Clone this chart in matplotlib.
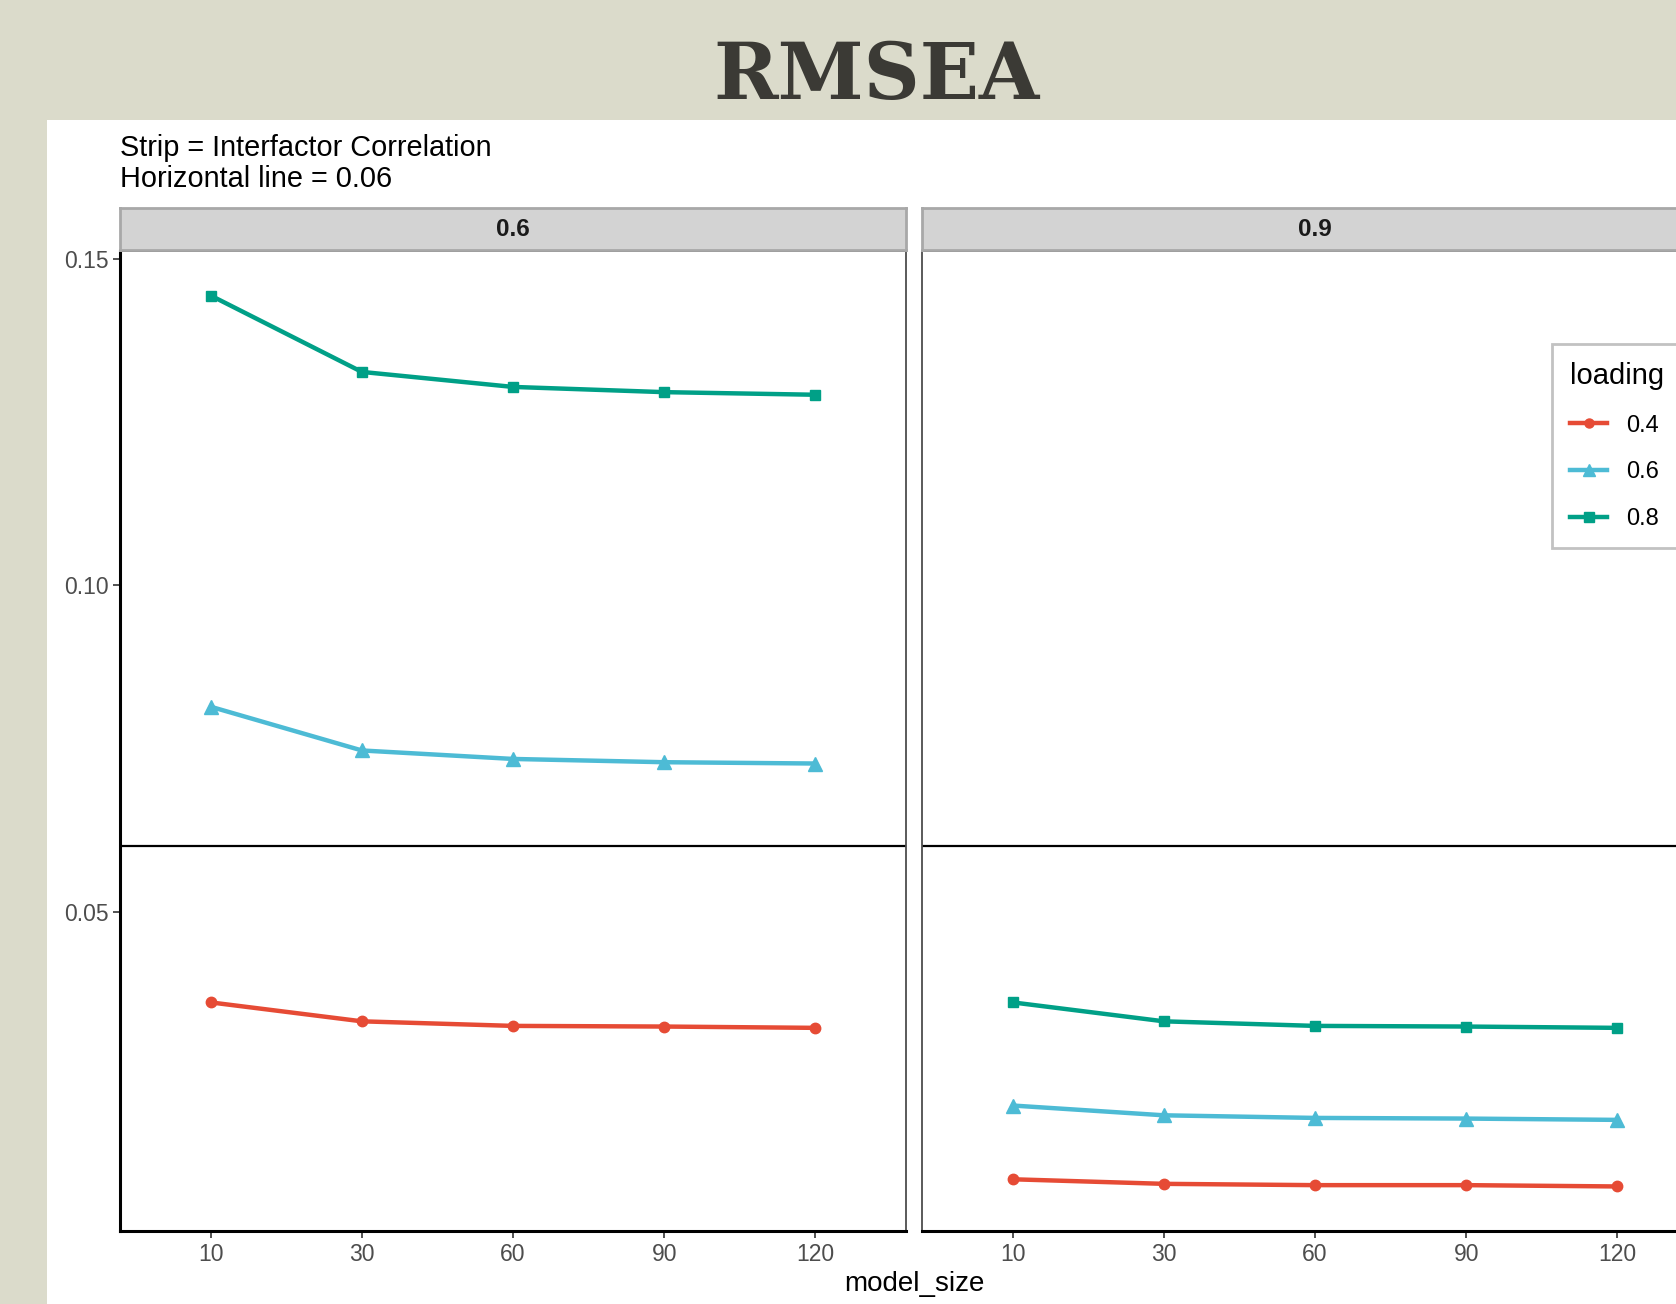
import numpy as np
import matplotlib

matplotlib.use("Agg")
import matplotlib.pyplot as plt
from matplotlib.patches import Rectangle
from matplotlib.lines import Line2D

# x categories and facet / colour levels
model_size = ["10", "30", "60", "90", "120"]
interfactor = ["0.6", "0.9"]
loading = ["0.4", "0.6", "0.8"]

# RMSEA by loading, interfactor correlation = 0.6
r06_l04 = [0.0361, 0.0332, 0.0325, 0.0324, 0.0322]
r06_l06 = [0.0814, 0.0747, 0.0734, 0.0729, 0.0727]
r06_l08 = [0.1444, 0.1327, 0.1304, 0.1296, 0.1292]
# RMSEA by loading, interfactor correlation = 0.9
r09_l04 = [0.0090, 0.0083, 0.0081, 0.0081, 0.0079]
r09_l06 = [0.0203, 0.0188, 0.0184, 0.0183, 0.0181]
r09_l08 = [0.0361, 0.0332, 0.0325, 0.0324, 0.0322]

cutoff = 0.06

COLORS = ["#E64B35", "#4DBBD5", "#00A087"]
MARKERS = ["o", "^", "s"]
MSIZES = [7.5, 9.5, 7.5]
BEIGE = "#DBDBCB"
SANS = "Liberation Sans"

W, H = 1676, 1304


def box(x0, y0, x1, y1):
    """Pixel box (top-left origin) -> figure-fraction rect."""
    return [x0 / W, 1 - y1 / H, (x1 - x0) / W, (y1 - y0) / H]


fig = plt.figure(figsize=(W / 100, H / 100), dpi=100)
fig.patch.set_facecolor(BEIGE)
fig.patches.append(Rectangle((47 / W, 0), 1 - 47 / W, 1 - 120 / H,
                             transform=fig.transFigure, facecolor="white",
                             edgecolor="none", zorder=-10))

fig.text(876 / W, 1 - 99 / H, "RMSEA", ha="center", va="baseline",
         family="DejaVu Serif", weight="bold", fontsize=56, color="#3B3A35")
fig.text(120 / W, 1 - 148 / H, "Strip = Interfactor Correlation",
         ha="left", va="center", family=SANS, fontsize=20.8, color="black")
fig.text(120 / W, 1 - 179 / H, "Horizontal line = 0.06",
         ha="left", va="center", family=SANS, fontsize=20.8, color="black")

panels = [(r06_l04, r06_l06, r06_l08), (r09_l04, r09_l06, r09_l08)]
all_vals = np.concatenate([np.ravel(p) for p in panels])
span = all_vals.max() - all_vals.min()
ylo, yhi = all_vals.min() - 0.05 * span, all_vals.max() + 0.05 * span
xpos = np.arange(1, len(model_size) + 1)

lefts = [(120, 906), (922, 1708)]
for i, (series, label, (x0, x1)) in enumerate(zip(panels, interfactor, lefts)):
    ax = fig.add_axes(box(x0, 251, x1, 1231))
    ax.set_facecolor("white")
    for vals, c, m, ms in zip(series, COLORS, MARKERS, MSIZES):
        ax.plot(xpos, vals, color=c, lw=3.2, marker=m, ms=ms,
                solid_capstyle="butt", zorder=3)
    ax.axhline(cutoff, color="black", lw=1.6, zorder=2)
    ax.set_xlim(0.4, len(model_size) + 0.6)
    ax.set_ylim(ylo, yhi)
    ax.set_xticks(xpos)
    ax.set_xticklabels(model_size)
    ax.set_yticks([0.05, 0.10, 0.15])
    ax.set_yticklabels(["0.05", "0.10", "0.15"])
    ax.tick_params(length=5, width=1.2, color="#333333", labelcolor="#4D4D4D",
                   labelsize=16.5)
    ax.tick_params(axis="x", pad=3.5)
    ax.tick_params(axis="y", pad=3)
    for t in ax.get_xticklabels() + ax.get_yticklabels():
        t.set_family(SANS)
    for s in ["top", "right", "left"]:
        ax.spines[s].set_color("#4D4D4D")
        ax.spines[s].set_linewidth(1.3)
    ax.spines["bottom"].set_color("black")
    ax.spines["bottom"].set_linewidth(2.2)
    if i == 0:
        ax.spines["left"].set_color("black")
        ax.spines["left"].set_linewidth(2.2)
    else:
        ax.tick_params(axis="y", left=False, labelleft=False)

    strip = fig.add_axes(box(x0, 208, x1, 250))
    strip.set_facecolor("#D3D3D3")
    strip.set_xticks([])
    strip.set_yticks([])
    for s in strip.spines.values():
        s.set_color("#A8A8A8")
        s.set_linewidth(2)
    strip.text(0.5, 0.5, label, transform=strip.transAxes, ha="center",
               va="center", family=SANS, weight="bold", fontsize=17.5,
               color="#1A1A1A")

fig.text(914 / W, 1 - 1284 / H, "model_size", ha="center", va="center",
         family=SANS, fontsize=20, color="black")

handles = [Line2D([], [], color=c, lw=3.2, marker=m, ms=ms - 1)
           for c, m, ms in zip(COLORS, MARKERS, MSIZES)]
leg = fig.legend(handles, loading, title="loading", loc="upper left",
                 bbox_to_anchor=(1552 / W, 1 - 344 / H), borderaxespad=0,
                 prop={"family": SANS, "size": 17},
                 title_fontproperties={"family": SANS, "size": 21},
                 frameon=True, fancybox=False, handlelength=1.6,
                 handletextpad=0.77, labelspacing=1.05, borderpad=0.75,
                 alignment="left")
leg.get_frame().set_edgecolor("#B3B3B3")
leg.get_frame().set_linewidth(2)

fig.savefig("out.png", dpi=100, facecolor=BEIGE)
